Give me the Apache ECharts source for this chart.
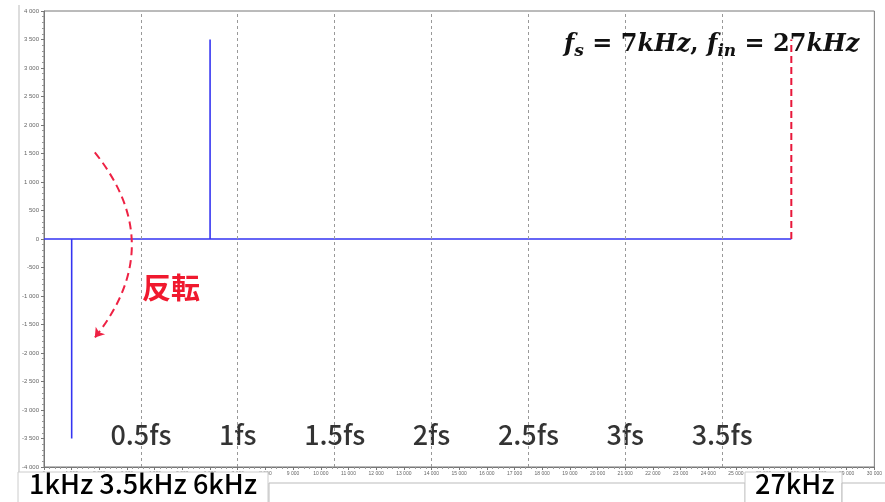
<!DOCTYPE html>
<html>
<head>
<meta charset="utf-8">
<script src="https://cdn.jsdelivr.net/npm/echarts@6/dist/echarts.min.js"></script>
<style>
    html, body { margin: 0; padding: 0; background: #fff; }
    #chart { width: 885px; height: 502px; }
</style>
</head>
<body>
<div id="chart"></div>
<script>
    // 折り返し後の信号 (Hz, 振幅)
    var signalX = [0, 1000, 1000, 1000, 6000, 6000, 6000, 27000];
    var signalY = [0, 0, -3500, 0, 0, 3500, 0, 0];
    // 入力 27kHz
    var inputX = [27000, 27000];
    var inputY = [0, 3500];
    // fs の倍数の目盛り
    var fsLabels = ['0.5fs', '1fs', '1.5fs', '2fs', '2.5fs', '3fs', '3.5fs'];
    var fsPositions = [3500, 7000, 10500, 14000, 17500, 21000, 24500];
    var fsLabelY = -3440;
    // 反転の矢印 (始点, 終点)
    var arrowFrom = [1835, 1520];
    var arrowTo = [1835, -1730];

    function fmt(v) {
        var s = String(Math.abs(v));
        if (s.length > 3) s = s.slice(0, s.length - 3) + ' ' + s.slice(-3);
        return (v < 0 ? '-' : '') + s;
    }

    var chart = echarts.init(document.getElementById('chart'));

    chart.setOption({
        animation: false,
        grid: {
            left: 44,
            top: 11,
            right: 7,
            bottom: 35,
            show: true,
            borderColor: '#777',
            borderWidth: 1
        },
        xAxis: {
            type: 'value',
            min: 0,
            max: 30000,
            interval: 1000,
            axisLine: {onZero: false, lineStyle: {color: '#777'}},
            axisTick: {length: 3, lineStyle: {color: '#777'}},
            minorTick: {show: true, splitNumber: 5, length: 2, lineStyle: {color: '#999'}},
            axisLabel: {
                fontSize: 5,
                color: '#666',
                margin: 4,
                fontFamily: 'Liberation Sans',
                formatter: fmt
            },
            splitLine: {show: false}
        },
        yAxis: {
            type: 'value',
            min: -4000,
            max: 4000,
            interval: 500,
            axisLine: {show: true, onZero: false, lineStyle: {color: '#777'}},
            axisTick: {show: true, length: 3, lineStyle: {color: '#777'}},
            minorTick: {show: true, splitNumber: 5, length: 2, lineStyle: {color: '#999'}},
            axisLabel: {
                fontSize: 6,
                color: '#666',
                margin: 5,
                fontFamily: 'Liberation Sans',
                formatter: fmt
            },
            splitLine: {show: false}
        },
        series: [
            {
                // fs 倍数の点線とラベル
                type: 'scatter',
                symbolSize: 0,
                data: fsPositions.map(function (x, i) {
                    return {value: [x, fsLabelY], name: fsLabels[i]};
                }),
                label: {
                    show: true,
                    position: 'inside',
                    formatter: '{b}',
                    fontSize: 27,
                    fontWeight: 500,
                    color: '#000',
                    fontFamily: 'Noto Sans CJK JP'
                },
                markLine: {
                    silent: true,
                    symbol: 'none',
                    label: {show: false},
                    lineStyle: {color: '#999', type: [3, 3], width: 1},
                    data: fsPositions.map(function (x) { return {xAxis: x}; })
                },
                z: 1
            },
            {
                type: 'line',
                data: signalX.map(function (x, i) { return [x, signalY[i]]; }),
                showSymbol: false,
                lineStyle: {color: '#3535f2', width: 1.6},
                z: 3
            },
            {
                type: 'line',
                data: inputX.map(function (x, i) { return [x, inputY[i]]; }),
                showSymbol: false,
                lineStyle: {color: '#e8173a', width: 2, type: [7, 4]},
                z: 3
            },
            {
                type: 'lines',
                coordinateSystem: 'cartesian2d',
                symbol: ['none', 'arrow'],
                symbolSize: 9,
                lineStyle: {color: '#ee2244', width: 2, type: [8, 5], curveness: 0.4, opacity: 1},
                data: [{coords: [arrowFrom, arrowTo]}],
                z: 4
            }
        ],
        graphic: [
            {type: 'line', shape: {x1: 19, y1: 5, x2: 19, y2: 502}, style: {stroke: '#bbb', lineWidth: 1}, z: 50},
            {
                type: 'text',
                left: 564,
                top: 29,
                z: 60,
                style: {
                    text: '{i|f}{sub|s}{n| = 7}{i|kHz}{n|, }{i|f}{sub|in}{n| = 27}{i|kHz}',
                    rich: {
                        i: {fontSize: 24, fontWeight: 'bold', fontStyle: 'italic', fontFamily: 'DejaVu Serif', fill: '#111', lineHeight: 30},
                        n: {fontSize: 24, fontWeight: 'bold', fontFamily: 'DejaVu Serif', fill: '#111', lineHeight: 30},
                        sub: {fontSize: 17, fontWeight: 'bold', fontStyle: 'italic', fontFamily: 'DejaVu Serif', fill: '#111', lineHeight: 30, padding: [14, 0, 0, 0]}
                    }
                }
            },
            {
                type: 'text',
                left: 142,
                top: 273,
                z: 60,
                style: {text: '反転', fontSize: 29, fontWeight: 'bold', fontFamily: 'Noto Sans CJK JP', fill: '#f0192e'}
            },
            // 下のラベル枠
            {type: 'rect', shape: {x: 18, y: 472, width: 250, height: 32}, style: {fill: '#fff', stroke: '#ccc', lineWidth: 1}, z: 70},
            {type: 'rect', shape: {x: 269, y: 483, width: 476, height: 22}, style: {fill: '#fff', stroke: '#bbb', lineWidth: 1}, z: 70},
            {type: 'rect', shape: {x: 745, y: 472, width: 97, height: 32}, style: {fill: '#fff', stroke: '#ccc', lineWidth: 1}, z: 70},
            {type: 'rect', shape: {x: 842, y: 483, width: 50, height: 22}, style: {fill: '#fff', stroke: '#bbb', lineWidth: 1}, z: 70},
            {
                type: 'text', left: 29, top: 470, z: 80,
                style: {text: '1kHz 3.5kHz 6kHz', fontSize: 27, fontWeight: 500, fontFamily: 'Noto Sans CJK JP', fill: '#000'}
            },
            {
                type: 'text', left: 755, top: 470, z: 80,
                style: {text: '27kHz', fontSize: 27, fontWeight: 500, fontFamily: 'Noto Sans CJK JP', fill: '#000'}
            }
        ]
    });
</script>
</body>
</html>
